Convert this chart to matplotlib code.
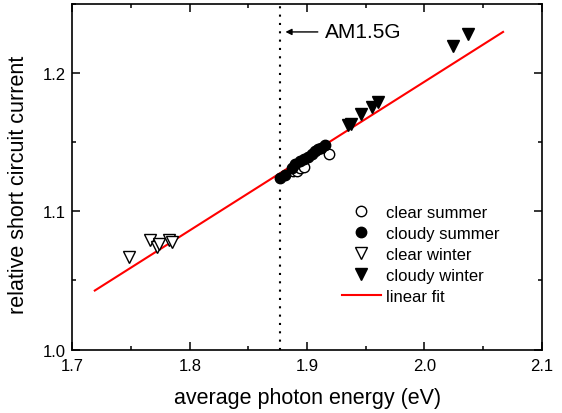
import matplotlib
matplotlib.use("Agg")
import matplotlib.pyplot as plt
from matplotlib.ticker import MultipleLocator

plt.rcParams['font.family'] = ['Liberation Sans', 'DejaVu Sans']

# valores
clear_summer_x = [1.888, 1.891, 1.894, 1.897, 1.919]
clear_summer_y = [1.129, 1.129, 1.131, 1.132, 1.1415]

cloudy_summer_x = [1.877, 1.881, 1.887, 1.890, 1.894, 1.897, 1.901, 1.904, 1.907, 1.909, 1.912, 1.915]
cloudy_summer_y = [1.124, 1.126, 1.131, 1.134, 1.136, 1.138, 1.139, 1.1415, 1.1437, 1.145, 1.146, 1.148]

clear_winter_x = [1.748, 1.766, 1.772, 1.774, 1.782, 1.785]
clear_winter_y = [1.067, 1.079, 1.074, 1.076, 1.079, 1.078]

cloudy_winter_x = [1.935, 1.937, 1.946, 1.955, 1.960, 2.024, 2.037]
cloudy_winter_y = [1.162, 1.163, 1.170, 1.175, 1.179, 1.219, 1.228]

fit_x = [1.719, 2.067]
fit_y = [1.0427, 1.2295]

am15g = 1.877

fig = plt.figure(figsize=(5.62, 4.14), dpi=100)
ax = fig.add_axes([0.129, 0.153, 0.835, 0.836])

ax.axvline(am15g, color='black', linestyle=(0, (1, 3)), linewidth=1.5, zorder=1)
ax.plot(fit_x, fit_y, color='red', linewidth=1.5, label='linear fit', zorder=2)

ax.plot(clear_summer_x, clear_summer_y, 'o', ms=7.5, mfc='white', mec='black', mew=1,
        linestyle='none', label='clear summer', zorder=3)
ax.plot(cloudy_summer_x, cloudy_summer_y, 'o', ms=7.5, mfc='black', mec='black',
        linestyle='none', label='cloudy summer', zorder=4)
ax.plot(clear_winter_x, clear_winter_y, 'v', ms=9, mfc='white', mec='black', mew=1,
        linestyle='none', label='clear winter', zorder=3)
ax.plot(cloudy_winter_x, cloudy_winter_y, 'v', ms=9, mfc='black', mec='black',
        linestyle='none', label='cloudy winter', zorder=3)

ax.annotate('AM1.5G', xy=(1.8815, 1.2295), xytext=(1.915, 1.2295),
            fontsize=15, va='center', ha='left',
            arrowprops=dict(arrowstyle='-|>', color='black', lw=1,
                            shrinkA=3, shrinkB=0, mutation_scale=9))

ax.set_xlim(1.7, 2.1)
ax.set_ylim(1.0, 1.25)
ax.xaxis.set_major_locator(MultipleLocator(0.1))
ax.xaxis.set_minor_locator(MultipleLocator(0.05))
ax.yaxis.set_major_locator(MultipleLocator(0.1))
ax.yaxis.set_minor_locator(MultipleLocator(0.05))
ax.xaxis.set_major_formatter(plt.FormatStrFormatter('%.1f'))
ax.yaxis.set_major_formatter(plt.FormatStrFormatter('%.1f'))
ax.tick_params(which='both', direction='in', top=True, right=True, labelsize=12, width=1.1)
ax.tick_params(which='major', length=5.5)
ax.tick_params(which='minor', length=3)
ax.tick_params(axis='x', which='major', pad=6)
ax.tick_params(axis='y', which='major', pad=5)
for s in ax.spines.values():
    s.set_linewidth(1.2)

ax.set_xlabel('average photon energy (eV)', fontsize=15.5, labelpad=10)
ax.set_ylabel('relative short circuit current', fontsize=15.5)
ax.yaxis.set_label_coords(-0.092, 0.48)

handles, labels = ax.get_legend_handles_labels()
order = [1, 2, 3, 4, 0]
ax.legend([handles[i] for i in order], [labels[i] for i in order],
          loc='upper left', bbox_to_anchor=(0.575, 0.418), frameon=False,
          fontsize=12, handlelength=2.3, handletextpad=0.3, labelspacing=0.36,
          borderpad=0, borderaxespad=0)

fig.savefig('out.png', dpi=100)
